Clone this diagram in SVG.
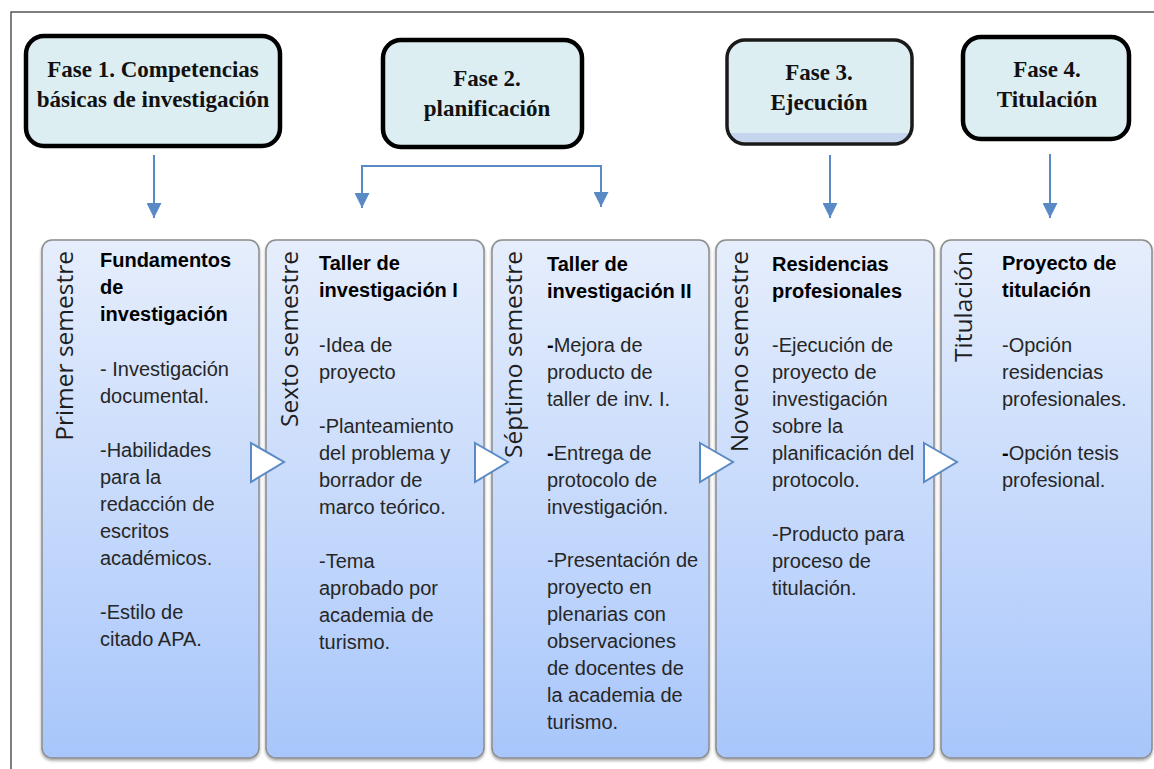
<svg xmlns="http://www.w3.org/2000/svg" width="1154" height="769" viewBox="0 0 1154 769">
<defs>
<linearGradient id="colg" x1="0" y1="0" x2="0" y2="1">
<stop offset="0" stop-color="#e6eefc"/>
<stop offset="1" stop-color="#a8c6fb"/>
</linearGradient>
<filter id="sh" x="-10%" y="-5%" width="120%" height="110%">
<feDropShadow dx="0" dy="2" stdDeviation="1.5" flood-color="#000" flood-opacity="0.35"/>
</filter>
<marker id="ah" viewBox="0 0 10 10" refX="10" refY="5" markerWidth="7.5" markerHeight="7.5" orient="auto" markerUnits="strokeWidth">
<path d="M0,0 L10,5 L0,10 z" fill="#5a8ac6"/>
</marker>
<style>
.phase{fill:#ddeef3;stroke:#000;stroke-width:4.5}
.pt{font-family:"Liberation Serif","Times New Roman",serif;font-weight:bold;font-size:23px;fill:#111;text-anchor:middle}
.col{fill:url(#colg);stroke:#8c8c8c;stroke-width:1.5;filter:url(#sh)}
.vt{font-family:"Open Sans","Noto Sans",sans-serif;font-size:24.5px;fill:#1e1e1e;text-anchor:end}
.bt{font-family:"Liberation Sans",Arial,sans-serif;font-size:20px;fill:#262626}
.b{font-weight:bold;fill:#000}
.conn{fill:none;stroke:#5a8ac6;stroke-width:2}
.chev{fill:#fff;stroke:#5a8ac6;stroke-width:2;stroke-linejoin:miter}
.frame{fill:none;stroke:#555;stroke-width:1.5}
</style>
</defs>
<rect width="1154" height="769" fill="#fff"/>
<path class="frame" d="M11,769 L11,12 L1154,12"/>

<g id="fase1">
<rect class="phase" x="26" y="36" width="254" height="110" rx="18"/>
<text class="pt" x="153" y="77">Fase 1. Competencias</text>
<text class="pt" x="153" y="107">básicas de investigación</text>
</g>
<g id="fase2">
<rect class="phase" x="383" y="40" width="199" height="107" rx="18"/>
<text class="pt" x="487" y="86">Fase 2.</text>
<text class="pt" x="487" y="116">planificación</text>
</g>
<g id="fase3">
<rect x="727" y="40" width="185" height="104" rx="18" fill="#ddeef3"/>
<path d="M729,133 L910,133 L910,126 Q910,142 894,142 L745,142 Q729,142 729,126 Z" fill="#c5d5ed"/>
<rect x="727" y="40" width="185" height="104" rx="18" fill="none" stroke="#1a1a1a" stroke-width="3.5"/>
<text class="pt" x="819" y="80">Fase 3.</text>
<text class="pt" x="819" y="110">Ejecución</text>
</g>
<g id="fase4">
<rect class="phase" x="963" y="37" width="166" height="102" rx="18"/>
<text class="pt" x="1047" y="77">Fase 4.</text>
<text class="pt" x="1047" y="107">Titulación</text>
</g>

<g id="connectors">
<line class="conn" x1="154" y1="155" x2="154" y2="218" marker-end="url(#ah)"/>
<path class="conn" d="M362,166 L601,166"/>
<line class="conn" x1="362" y1="165" x2="362" y2="208" marker-end="url(#ah)"/>
<line class="conn" x1="601" y1="165" x2="601" y2="207" marker-end="url(#ah)"/>
<line class="conn" x1="830" y1="155" x2="830" y2="218" marker-end="url(#ah)"/>
<line class="conn" x1="1050" y1="154" x2="1050" y2="218" marker-end="url(#ah)"/>
</g>

<g id="col1">
<rect class="col" x="42" y="240" width="217" height="518" rx="10"/>
<text class="vt" transform="translate(73,251) rotate(-90)">Primer semestre</text>
<text class="bt">
<tspan class="b" x="100" y="267">Fundamentos</tspan>
<tspan class="b" x="100" y="294">de</tspan>
<tspan class="b" x="100" y="321">investigación</tspan>
<tspan x="100" y="376">- Investigación</tspan>
<tspan x="100" y="403">documental.</tspan>
<tspan x="100" y="457">-Habilidades</tspan>
<tspan x="100" y="484">para la</tspan>
<tspan x="100" y="511">redacción de</tspan>
<tspan x="100" y="538">escritos</tspan>
<tspan x="100" y="565">académicos.</tspan>
<tspan x="100" y="619">-Estilo de</tspan>
<tspan x="100" y="646">citado APA.</tspan>
</text>
</g>

<g id="col2">
<rect class="col" x="266" y="240" width="218" height="518" rx="10"/>
<text class="vt" transform="translate(298,251) rotate(-90)">Sexto semestre</text>
<text class="bt">
<tspan class="b" x="319" y="270">Taller de</tspan>
<tspan class="b" x="319" y="297">investigación I</tspan>
<tspan x="319" y="352">-Idea de</tspan>
<tspan x="319" y="379">proyecto</tspan>
<tspan x="319" y="433">-Planteamiento</tspan>
<tspan x="319" y="460">del problema y</tspan>
<tspan x="319" y="487">borrador de</tspan>
<tspan x="319" y="514">marco teórico.</tspan>
<tspan x="319" y="568">-Tema</tspan>
<tspan x="319" y="595">aprobado por</tspan>
<tspan x="319" y="622">academia de</tspan>
<tspan x="319" y="649">turismo.</tspan>
</text>
</g>

<g id="col3">
<rect class="col" x="492" y="240" width="217" height="518" rx="10"/>
<text class="vt" transform="translate(522,251) rotate(-90)">Séptimo semestre</text>
<text class="bt">
<tspan class="b" x="547" y="271">Taller de</tspan>
<tspan class="b" x="547" y="298">investigación II</tspan>
<tspan x="547" y="352"><tspan class="b">-</tspan>Mejora de</tspan>
<tspan x="547" y="379">producto de</tspan>
<tspan x="547" y="406">taller de inv. I.</tspan>
<tspan x="547" y="460"><tspan class="b">-</tspan>Entrega de</tspan>
<tspan x="547" y="487">protocolo de</tspan>
<tspan x="547" y="514">investigación.</tspan>
<tspan x="547" y="567">-Presentación de</tspan>
<tspan x="547" y="594">proyecto en</tspan>
<tspan x="547" y="621">plenarias con</tspan>
<tspan x="547" y="648">observaciones</tspan>
<tspan x="547" y="675">de docentes de</tspan>
<tspan x="547" y="702">la academia de</tspan>
<tspan x="547" y="729">turismo.</tspan>
</text>
</g>

<g id="col4">
<rect class="col" x="716" y="240" width="218" height="518" rx="10"/>
<text class="vt" transform="translate(748,251) rotate(-90)">Noveno semestre</text>
<text class="bt">
<tspan class="b" x="772" y="271">Residencias</tspan>
<tspan class="b" x="772" y="298">profesionales</tspan>
<tspan x="772" y="352">-Ejecución de</tspan>
<tspan x="772" y="379">proyecto de</tspan>
<tspan x="772" y="406">investigación</tspan>
<tspan x="772" y="433">sobre la</tspan>
<tspan x="772" y="460">planificación del</tspan>
<tspan x="772" y="487">protocolo.</tspan>
<tspan x="772" y="541">-Producto para</tspan>
<tspan x="772" y="568">proceso de</tspan>
<tspan x="772" y="595">titulación.</tspan>
</text>
</g>

<g id="col5">
<rect class="col" x="941" y="240" width="211" height="518" rx="10"/>
<text class="vt" transform="translate(972,251) rotate(-90)">Titulación</text>
<text class="bt">
<tspan class="b" x="1002" y="270">Proyecto de</tspan>
<tspan class="b" x="1002" y="297">titulación</tspan>
<tspan x="1002" y="352">-Opción</tspan>
<tspan x="1002" y="379">residencias</tspan>
<tspan x="1002" y="406">profesionales.</tspan>
<tspan x="1002" y="460"><tspan class="b">-</tspan>Opción tesis</tspan>
<tspan x="1002" y="487">profesional.</tspan>
</text>
</g>

<g id="chevrons">
<path class="chev" d="M251,443 L284,462 L251,482 Z"/>
<path class="chev" d="M475,443 L508,462 L475,482 Z"/>
<path class="chev" d="M700,443 L733,462 L700,482 Z"/>
<path class="chev" d="M924,443 L957,462 L924,482 Z"/>
</g>
</svg>
